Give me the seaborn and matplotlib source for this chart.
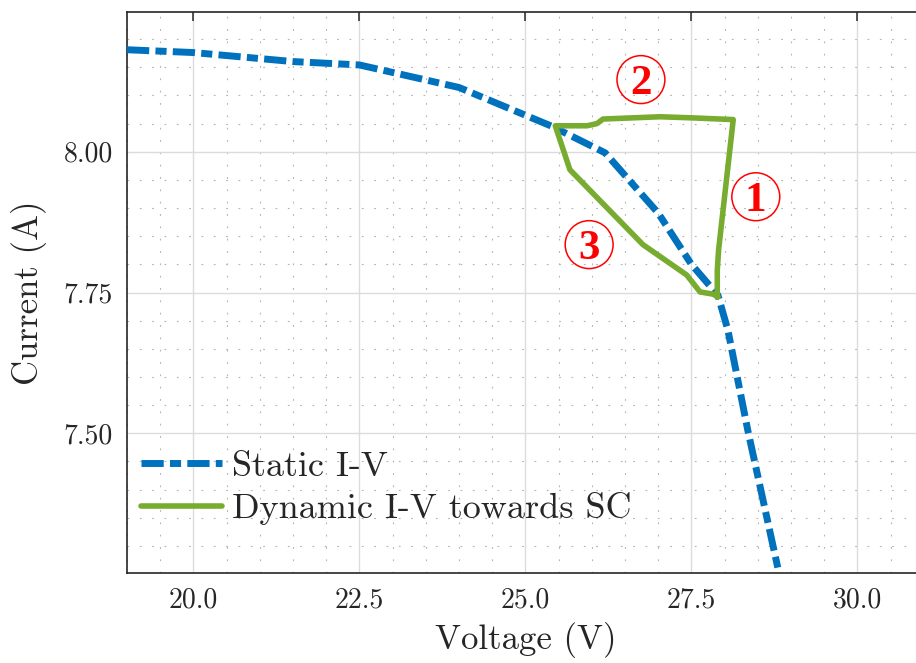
import matplotlib
matplotlib.use("Agg")
import matplotlib.pyplot as plt
from matplotlib.ticker import MultipleLocator, FormatStrFormatter
import seaborn as sns
import pandas as pd

# Static I-V characteristic of the PV module
static_v = [19.0, 20.0, 21.5, 22.5, 24.0, 25.4, 26.2, 27.0, 27.5, 27.9, 28.05, 28.35, 28.85]
static_i = [8.181, 8.176, 8.160, 8.154, 8.114, 8.045, 7.998, 7.891, 7.800, 7.745, 7.683, 7.505, 7.235]

# Dynamic I-V trajectory during the step towards short circuit
dyn_v = [27.89, 27.89, 27.91, 28.13, 27.52, 27.03, 26.17, 26.08, 25.93, 25.45,
         25.67, 26.77, 27.43, 27.63, 27.83, 27.90]
dyn_i = [7.742, 7.790, 7.826, 8.057, 8.060, 8.062, 8.058, 8.050, 8.046, 8.046,
         7.968, 7.835, 7.781, 7.751, 7.747, 7.742]

# Phase markers (circled numbers)
phase_labels = ["1", "2", "3"]
phase_v = [28.47, 26.74, 25.96]
phase_i = [7.920, 8.128, 7.835]

series_names = ["Static I-V", "Dynamic I-V towards SC"]
x_label = "Voltage (V)"
y_label = "Current (A)"

sns.set_style("white")
plt.rcParams["font.family"] = ["cmr10", "DejaVu Serif"]
plt.rcParams["axes.formatter.use_mathtext"] = True
plt.rcParams["mathtext.fontset"] = "cm"

fig = plt.figure(figsize=(9.16, 6.63), dpi=100)
ax = fig.add_axes([127 / 916, 90 / 663, 796.8 / 916, 561 / 663])

static_df = pd.DataFrame({"V": static_v, "I": static_i})
dyn_df = pd.DataFrame({"V": dyn_v, "I": dyn_i})

sns.lineplot(data=static_df, x="V", y="I", ax=ax, sort=False, estimator=None,
             color="#0072BD", lw=5, label=series_names[0],
             linestyle=(0, (3.2, 0.9, 1.6, 0.9)), zorder=3)
sns.lineplot(data=dyn_df, x="V", y="I", ax=ax, sort=False, estimator=None,
             color="#77AC30", lw=4, label=series_names[1], zorder=4,
             solid_joinstyle="round")

# circled phase numbers
ax.scatter(phase_v, phase_i, s=1190, facecolors="none", edgecolors="red",
           linewidths=1.1, zorder=5)
for lab, xv, yv in zip(phase_labels, phase_v, phase_i):
    ax.text(xv, yv, lab, ha="center", va="center_baseline", color="red",
            fontsize=31, fontweight="bold", family="Liberation Serif", zorder=6)

ax.set_xlim(19.0, 31.0)
ax.set_ylim(7.252, 8.248)
ax.xaxis.set_major_locator(MultipleLocator(2.5))
ax.xaxis.set_minor_locator(MultipleLocator(0.5))
ax.yaxis.set_major_locator(MultipleLocator(0.25))
ax.yaxis.set_minor_locator(MultipleLocator(0.05))
ax.xaxis.set_major_formatter(FormatStrFormatter("%.1f"))
ax.yaxis.set_major_formatter(FormatStrFormatter("%.2f"))

ax.grid(which="major", color="#dcdcdc", lw=1.0, zorder=0)
ax.grid(which="minor", color="#b4b4b4", lw=0.8, linestyle=(0, (1.6, 9.5)), zorder=0)
ax.set_axisbelow(True)

ax.tick_params(which="major", direction="in", length=6.5, width=1.1,
               top=True, right=False, labelsize=20, colors="#262626", pad=10)
ax.tick_params(which="minor", length=0)
for s in ax.spines.values():
    s.set_color("#262626")
    s.set_linewidth(1.2)

ax.set_xlabel(x_label, fontsize=25, color="#262626", labelpad=6)
ax.set_ylabel(y_label, fontsize=25, color="#262626", labelpad=12)

ax.legend(loc="center left", bbox_to_anchor=(0.0176, 0.1515), frameon=False,
          fontsize=26, borderpad=0, borderaxespad=0, handlelength=2.25,
          handletextpad=0.28, labelspacing=0.25)

fig.savefig("out.png", dpi=100)
